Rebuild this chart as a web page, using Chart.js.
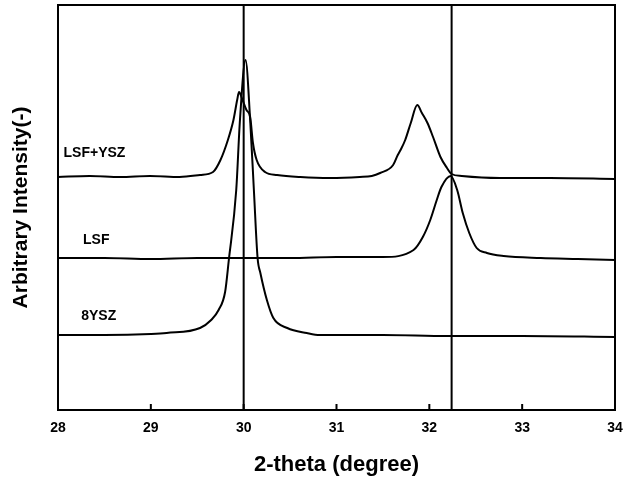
<!DOCTYPE html>
<html>
<head>
<meta charset="utf-8">
<script src="https://cdn.jsdelivr.net/npm/chart.js@4/dist/chart.umd.min.js"></script>
<style>
  html, body { margin: 0; padding: 0; background: #fff; }
  #wrap { width: 626px; height: 479px; }
</style>
</head>
<body>
<div id="wrap"><canvas id="xrd" width="626" height="479"></canvas></div>
<script>
// 2-theta tick labels and reference lines
const xTicks = [28, 29, 30, 31, 32, 33, 34];
const refLines = [30, 32.24];

// LSF+YSZ pattern (2-theta, intensity)
const lsfYszX = [28.00, 28.34, 28.67, 28.99, 29.31, 29.53, 29.67, 29.75, 29.83, 29.89, 29.93, 29.95, 29.98, 30.03, 30.07, 30.10, 30.14, 30.23, 30.36, 30.61, 30.93, 31.25, 31.38, 31.47, 31.61, 31.66, 31.69, 31.74, 31.80, 31.87, 31.92, 31.98, 32.04, 32.12, 32.19, 32.24, 32.35, 32.76, 33.30, 34.00];
const lsfYszY = [233, 234, 233, 234, 233, 235, 238, 250, 270, 290, 310, 318, 312, 300, 293, 267, 250, 238, 235, 233, 232, 233, 234, 237, 245, 255, 260, 270, 287, 305, 297, 287, 273, 253, 242, 236, 234, 232, 232, 231];

// LSF pattern
const lsfX = [28.00, 28.50, 29.00, 29.50, 30.00, 30.50, 31.00, 31.50, 31.83, 31.93, 32.01, 32.08, 32.13, 32.23, 32.30, 32.36, 32.43, 32.51, 32.62, 32.80, 33.20, 33.60, 34.00];
const lsfY = [152, 152, 151, 152, 152, 152, 153, 153, 160, 173, 190, 210, 223, 234, 220, 197, 177, 162, 157, 154, 152, 151, 150];

// 8YSZ pattern
const yszX = [28.00, 28.50, 29.00, 29.17, 29.53, 29.65, 29.73, 29.80, 29.84, 29.92, 29.96, 30.02, 30.07, 30.11, 30.15, 30.18, 30.25, 30.32, 30.47, 30.68, 30.82, 31.50, 32.20, 33.00, 34.00];
const yszY = [75, 75, 76, 77, 82, 90, 100, 118, 150, 220, 290, 350, 290, 220, 152, 137, 110, 92, 82, 77, 75, 75, 74, 74, 73];

// labels drawn at the left of each trace
const traceNames = ['LSF+YSZ', 'LSF', '8YSZ'];
const nameX = [28.06, 28.27, 28.25];
const nameY = [257, 170, 94];

const yMin = 0, yMax = 405;

function pts(xs, ys) {
    return xs.map((x, i) => ({ x: x, y: ys[i] }));
}

const lineStyle = {
    borderColor: '#000',
    borderWidth: 2,
    pointRadius: 0,
    fill: false,
    cubicInterpolationMode: 'monotone'
};

const datasets = [
    Object.assign({ label: traceNames[0], data: pts(lsfYszX, lsfYszY) }, lineStyle),
    Object.assign({ label: traceNames[1], data: pts(lsfX, lsfY) }, lineStyle),
    Object.assign({ label: traceNames[2], data: pts(yszX, yszY) }, lineStyle)
];
refLines.forEach(v => {
    datasets.push({
        label: 'ref ' + v,
        data: [{ x: v, y: yMin }, { x: v, y: yMax }],
        borderColor: '#000', borderWidth: 2, pointRadius: 0, tension: 0
    });
});

// frame, inward ticks and trace names
const framePlugin = {
    id: 'frame',
    afterDatasetsDraw(chart) {
        const { ctx, chartArea: a, scales } = chart;
        ctx.save();
        ctx.strokeStyle = '#000';
        ctx.lineWidth = 2;
        ctx.strokeRect(a.left, a.top, a.right - a.left, a.bottom - a.top);
        ctx.beginPath();
        xTicks.slice(1, -1).forEach(t => {
            const px = scales.x.getPixelForValue(t);
            ctx.moveTo(px, a.bottom);
            ctx.lineTo(px, a.bottom - 6);
        });
        ctx.stroke();
        ctx.fillStyle = '#000';
        ctx.font = 'bold 14px "Liberation Sans", Arial, sans-serif';
        ctx.textBaseline = 'middle';
        ctx.textAlign = 'left';
        traceNames.forEach((n, i) => {
            ctx.fillText(n, scales.x.getPixelForValue(nameX[i]), scales.y.getPixelForValue(nameY[i]));
        });
        ctx.restore();
    }
};

new Chart(document.getElementById('xrd'), {
    type: 'line',
    data: { datasets: datasets },
    options: {
        responsive: false,
        animation: false,
        layout: { padding: { top: 5, right: 11, bottom: 0, left: 0 } },
        plugins: { legend: { display: false }, tooltip: { enabled: false } },
        scales: {
            x: {
                type: 'linear',
                min: 28, max: 34,
                afterBuildTicks: s => { s.ticks = xTicks.map(v => ({ value: v })); },
                ticks: {
                    color: '#000',
                    padding: 10,
                    maxRotation: 0,
                    font: { family: '"Liberation Sans", Arial, sans-serif', size: 14, weight: 'bold' }
                },
                grid: { display: false, drawTicks: false },
                border: { display: false },
                title: {
                    display: true,
                    text: '2-theta (degree)',
                    color: '#000',
                    padding: { top: 0, bottom: 1 },
                    font: { family: '"Liberation Sans", Arial, sans-serif', size: 22, weight: 'bold' }
                },
                afterFit: s => { s.height = 69; s.paddingLeft = 0; s.paddingRight = 0; }
            },
            y: {
                min: yMin, max: yMax,
                ticks: { display: false },
                grid: { display: false, drawTicks: false },
                border: { display: false },
                title: {
                    display: true,
                    text: 'Arbitrary Intensity(-)',
                    color: '#000',
                    padding: { top: 9, bottom: 0 },
                    font: { family: '"Liberation Sans", Arial, sans-serif', size: 21, weight: 'bold' }
                },
                afterFit: s => { s.width = 58; s.paddingTop = 0; s.paddingBottom = 0; }
            }
        }
    },
    plugins: [framePlugin]
});
</script>
</body>
</html>
